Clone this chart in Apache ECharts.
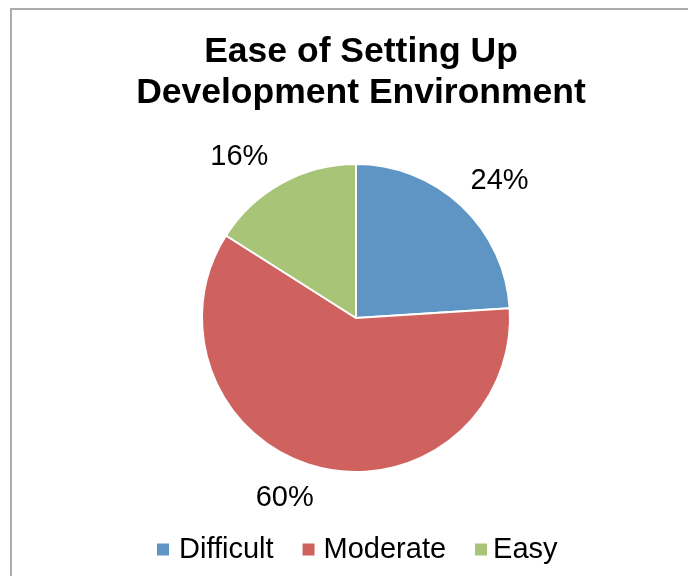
<!DOCTYPE html>
<html>
<head>
<meta charset="utf-8">
<script src="https://cdn.jsdelivr.net/npm/echarts@6/dist/echarts.min.js"></script>
<style>
html,body{margin:0;padding:0;background:#fff;}
#chart{width:688px;height:576px;}
</style>
</head>
<body>
<div id="chart"></div>
<script>
const titleText = "Ease of Setting Up\nDevelopment Environment";
const categories = ["Difficult", "Moderate", "Easy"];
const values = [24, 60, 16];
const colors = ["#5f95c5", "#cf625f", "#a8c477"];

const FONT = "'Liberation Sans', Arial, Helvetica, sans-serif";
const chart = echarts.init(document.getElementById('chart'), null, {renderer: 'canvas'});

chart.setOption({
  backgroundColor: '#ffffff',
  animation: false,
  color: colors,
  graphic: [{
    type: 'rect',
    shape: {x: 11, y: 9, width: 720, height: 620},
    style: {fill: 'none', stroke: '#ababab', lineWidth: 2},
    silent: true,
    z: -1
  }],
  title: {
    text: titleText,
    left: 356,
    top: 27,
    textAlign: 'center',
    textStyle: {
      fontFamily: FONT,
      fontWeight: 'bold',
      fontSize: 35.5,
      lineHeight: 41,
      color: '#000'
    }
  },
  legend: {
    data: [
      {name: categories[0], textStyle: {padding: [0, 0, 0, 4]}},
      {name: categories[1], textStyle: {padding: [0, 0, 0, 3]}},
      {name: categories[2], textStyle: {padding: [0, 0, 0, 0]}}
    ],
    left: 150,
    top: 530,
    icon: 'rect',
    itemWidth: 14,
    itemHeight: 14,
    itemGap: 27,
    textStyle: {fontFamily: FONT, fontSize: 29, color: '#000'}
  },
  series: [{
    type: 'pie',
    center: [356, 318],
    radius: 154,
    startAngle: 90,
    clockwise: true,
    avoidLabelOverlap: false,
    data: categories.map((c, i) => ({name: c, value: values[i]})),
    itemStyle: {borderColor: '#ffffff', borderWidth: 2},
    label: {
      show: true,
      position: 'outside',
      formatter: '{d}%',
      fontFamily: FONT,
      fontSize: 29,
      color: '#000'
    },
    labelLine: {show: false, length: 28, length2: 0},
    labelLayout: function (p) {
      if (p.dataIndex === 0) return {dx: -15, dy: -4};
      if (p.dataIndex === 1) return {dx: 8, dy: 4};
      return {dx: 5, dy: -2};
    },
    emphasis: {disabled: true}
  }]
});
</script>
</body>
</html>
